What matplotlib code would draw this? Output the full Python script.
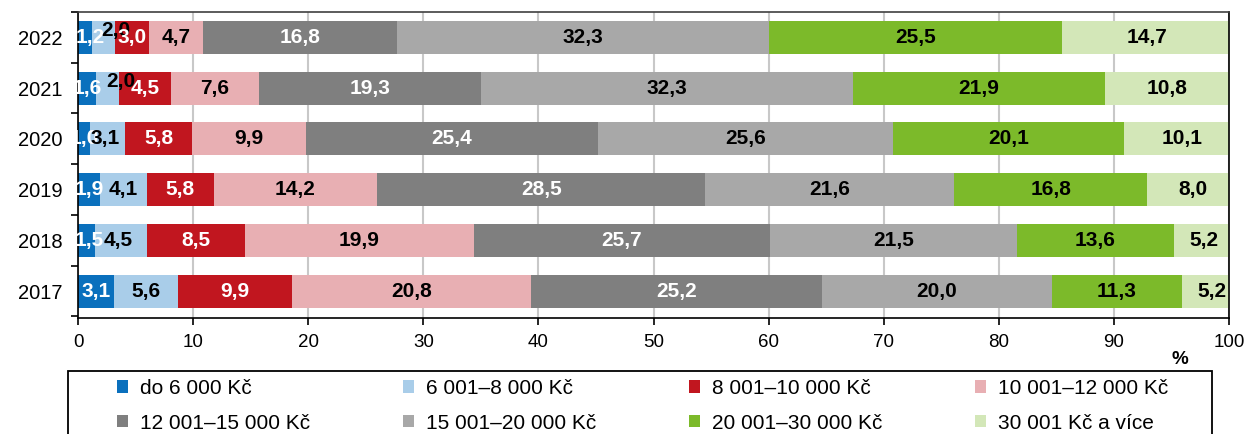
import matplotlib
matplotlib.use("Agg")
import matplotlib.pyplot as plt
from matplotlib.patches import Rectangle
import numpy as np

plt.rcParams['font.family'] = ['Liberation Sans', 'DejaVu Sans']

years = ["2017", "2018", "2019", "2020", "2021", "2022"]
categories = ["do 6 000 Kč", "6 001–8 000 Kč", "8 001–10 000 Kč", "10 001–12 000 Kč",
              "12 001–15 000 Kč", "15 001–20 000 Kč", "20 001–30 000 Kč", "30 001 Kč a více"]
s1 = [3.1, 1.5, 1.9, 1.0, 1.6, 1.2]
s2 = [5.6, 4.5, 4.1, 3.1, 2.0, 2.0]
s3 = [9.9, 8.5, 5.8, 5.8, 4.5, 3.0]
s4 = [20.8, 19.9, 14.2, 9.9, 7.6, 4.7]
s5 = [25.2, 25.7, 28.5, 25.4, 19.3, 16.8]
s6 = [20.0, 21.5, 21.6, 25.6, 32.3, 32.3]
s7 = [11.3, 13.6, 16.8, 20.1, 21.9, 25.5]
s8 = [5.2, 5.2, 8.0, 10.1, 10.8, 14.7]
series = [s1, s2, s3, s4, s5, s6, s7, s8]

colors = ["#0a70bd", "#a9cde9", "#c1161f", "#e8afb3", "#7f7f7f", "#a8a8a8", "#7cba2a", "#d3e7b8"]
label_colors = ["white", "black", "white", "black", "white", "black", "black", "black"]

W, H = 1248, 434
fig = plt.figure(figsize=(W / 100, H / 100), dpi=100)
ax = fig.add_axes([78 / W, 1 - 318 / H, (1229 - 78) / W, (318 - 12) / H])

y = np.arange(len(years))
left = np.zeros(len(years))
handles = []
for i, (vals, c) in enumerate(zip(series, colors)):
    vals = np.array(vals)
    b = ax.barh(y, vals, left=left, height=0.65, color=c, label=categories[i], zorder=2)
    handles.append(b)
    for j, v in enumerate(vals):
        cx = left[j] + v / 2
        cy = y[j]
        txt = f"{v:.1f}".replace(".", ",")
        col = label_colors[i]
        if i == 1 and years[j] in ("2021", "2022"):
            cx = left[j] + v / 2 + 1.1
            cy = y[j] + 0.14
            col = "black"
        elif i == 0 and years[j] == "2022":
            cx = left[j] + v / 2 + 0.5
        elif i == 0 and years[j] == "2018":
            cx = left[j] + v / 2 + 0.2
        elif i == 1 and years[j] == "2020":
            cx = left[j] + v / 2 - 0.2
        elif i == 1 and years[j] == "2018":
            cx = left[j] + v / 2 - 0.3
        ax.text(cx, cy, txt, ha="center", va="center", fontsize=15,
                fontweight="bold", color=col, zorder=4, clip_on=False)
    left = left + vals

ax.set_xlim(0, 100)
ax.set_ylim(-0.53, 5.5)
ax.set_xticks(np.arange(0, 101, 10))
ax.set_yticks(y)
ax.set_yticklabels(years, fontsize=14.5)
ax.set_yticks(np.arange(-0.5, 5.6, 1.0), minor=True)
ax.tick_params(axis="x", labelsize=13.5, length=5, width=1.2, direction="out", pad=6.5)
ax.tick_params(axis="y", which="major", length=0, pad=11)
ax.tick_params(axis="y", which="minor", length=5, width=1.2, direction="out")
ax.xaxis.grid(True, color="#c8c8c8", linewidth=1.5, zorder=0)
ax.set_axisbelow(True)
for sp in ["left", "bottom", "right"]:
    ax.spines[sp].set_color("black")
    ax.spines[sp].set_linewidth(1.2)
ax.spines["top"].set_color("#404040")
ax.spines["top"].set_linewidth(1.2)

fig.text(1180 / W, 1 - 360 / H, "%", ha="center", va="center", fontsize=13.5, fontweight="bold")

# legend: 4 columns x 2 rows inside a common frame
frame = Rectangle((68 / W, -0.05), (1212 - 68) / W, 0.05 + 1 - 371 / H,
                  transform=fig.transFigure, fill=False, edgecolor="black", linewidth=1.3)
fig.add_artist(frame)
col_x = [117, 403, 689, 975]
for k, x0 in enumerate(col_x):
    fig.legend([handles[k], handles[k + 4]], [categories[k], categories[k + 4]],
               loc="upper left", bbox_to_anchor=(x0 / W, 1 - 379 / H),
               frameon=False, fontsize=15, handlelength=0.53, handleheight=0.53,
               handletextpad=0.55, borderpad=0, borderaxespad=0, labelspacing=0.75)

fig.savefig("out.png", dpi=100)
